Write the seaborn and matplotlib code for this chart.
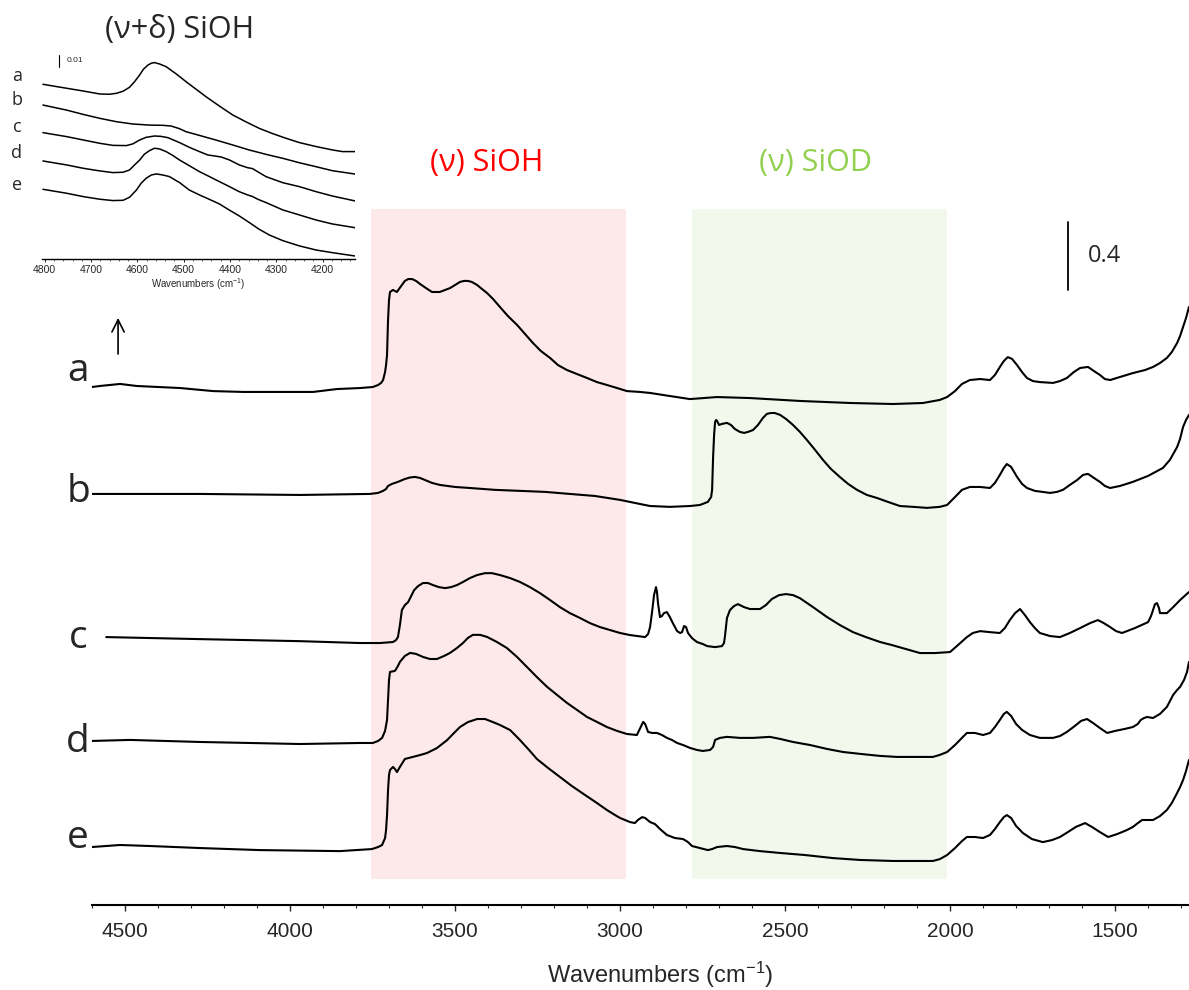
import numpy as np
import pandas as pd
import matplotlib
matplotlib.use("Agg")
import matplotlib.pyplot as plt
import seaborn as sns
from matplotlib.ticker import MultipleLocator, FixedLocator

# ---------------- main spectra: (wavenumber, absorbance relative to own baseline) ----------------
spec_a = [(4600, 0.0), (4576, 0.006), (4515, 0.018), (4464, 0.006), (4333, -0.006), (4233, -0.024),
          (4142, -0.029), (3930, -0.029), (3858, -0.012), (3788, -0.006), (3749, 0.0), (3733, 0.012),
          (3724, 0.024), (3718, 0.041), (3712, 0.088), (3709, 0.129), (3706, 0.188), (3703, 0.394),
          (3700, 0.512), (3697, 0.559), (3688, 0.571), (3682, 0.565), (3676, 0.559), (3670, 0.576),
          (3661, 0.6), (3652, 0.624), (3642, 0.635), (3630, 0.635), (3618, 0.624), (3606, 0.606),
          (3588, 0.582), (3570, 0.559), (3546, 0.559), (3530, 0.571), (3515, 0.582), (3500, 0.6),
          (3485, 0.618), (3473, 0.624), (3461, 0.624), (3449, 0.618), (3433, 0.6), (3418, 0.576),
          (3403, 0.553), (3385, 0.518), (3364, 0.471), (3340, 0.418), (3312, 0.365), (3288, 0.312),
          (3264, 0.259), (3240, 0.212), (3212, 0.171), (3188, 0.129), (3161, 0.1), (3130, 0.076),
          (3100, 0.053), (3070, 0.029), (3040, 0.012), (3009, -0.006), (2979, -0.024), (2940, -0.029),
          (2909, -0.035), (2849, -0.053), (2788, -0.071), (2706, -0.059), (2606, -0.065), (2455, -0.082),
          (2303, -0.094), (2173, -0.1), (2082, -0.094), (2031, -0.076), (2009, -0.059), (1985, -0.024),
          (1964, 0.018), (1940, 0.041), (1909, 0.047), (1879, 0.041), (1864, 0.071), (1849, 0.118),
          (1837, 0.153), (1825, 0.176), (1812, 0.165), (1797, 0.129), (1782, 0.088), (1767, 0.053),
          (1749, 0.035), (1728, 0.029), (1688, 0.024), (1667, 0.035), (1646, 0.053), (1625, 0.088),
          (1606, 0.112), (1582, 0.118), (1564, 0.094), (1546, 0.071), (1531, 0.047), (1515, 0.041),
          (1485, 0.059), (1446, 0.082), (1409, 0.1), (1385, 0.118), (1364, 0.141), (1343, 0.171),
          (1328, 0.206), (1312, 0.259), (1303, 0.3), (1294, 0.353), (1285, 0.406), (1276, 0.471)]

spec_b = [(4600, 0), (4273, 0), (3970, -0.006), (3758, 0), (3733, 0.006), (3718, 0.018), (3709, 0.029),
          (3703, 0.047), (3691, 0.059), (3673, 0.071), (3652, 0.088), (3636, 0.097), (3621, 0.1),
          (3606, 0.094), (3591, 0.082), (3570, 0.065), (3546, 0.053), (3500, 0.041), (3455, 0.035),
          (3379, 0.024), (3303, 0.018), (3227, 0.012), (3152, 0), (3076, -0.012), (3000, -0.035),
          (2955, -0.053), (2909, -0.071), (2849, -0.076), (2788, -0.071), (2758, -0.065), (2734, -0.047),
          (2724, -0.018), (2721, 0.024), (2718, 0.218), (2715, 0.347), (2712, 0.424), (2709, 0.435),
          (2706, 0.429), (2700, 0.406), (2691, 0.412), (2676, 0.418), (2664, 0.406), (2652, 0.382),
          (2637, 0.365), (2624, 0.359), (2612, 0.365), (2597, 0.376), (2582, 0.406), (2567, 0.447),
          (2555, 0.471), (2543, 0.476), (2531, 0.476), (2515, 0.465), (2497, 0.441), (2476, 0.406),
          (2455, 0.365), (2434, 0.318), (2409, 0.259), (2385, 0.2), (2361, 0.147), (2334, 0.1),
          (2309, 0.059), (2282, 0.024), (2252, -0.006), (2221, -0.024), (2188, -0.047), (2152, -0.071),
          (2112, -0.076), (2070, -0.082), (2031, -0.076), (2009, -0.065), (1985, -0.018), (1964, 0.024),
          (1940, 0.041), (1909, 0.041), (1879, 0.035), (1864, 0.065), (1849, 0.112), (1837, 0.153),
          (1828, 0.176), (1815, 0.159), (1797, 0.1), (1782, 0.059), (1767, 0.035), (1743, 0.018),
          (1697, 0.006), (1676, 0.012), (1658, 0.024), (1637, 0.053), (1615, 0.082), (1597, 0.112),
          (1582, 0.118), (1564, 0.094), (1546, 0.071), (1531, 0.047), (1515, 0.035), (1485, 0.047),
          (1446, 0.071), (1400, 0.106), (1355, 0.153), (1334, 0.2), (1312, 0.276), (1303, 0.324),
          (1294, 0.394), (1285, 0.435), (1276, 0.465)]

spec_c = [(4557, 0), (4273, -0.012), (3970, -0.024), (3788, -0.035), (3727, -0.035), (3688, -0.029),
          (3679, -0.018), (3673, 0), (3667, 0.071), (3661, 0.159), (3652, 0.188), (3642, 0.206),
          (3633, 0.241), (3624, 0.276), (3612, 0.3), (3597, 0.318), (3582, 0.318), (3567, 0.306),
          (3549, 0.294), (3530, 0.288), (3512, 0.294), (3494, 0.306), (3476, 0.324), (3455, 0.347),
          (3433, 0.365), (3409, 0.376), (3388, 0.376), (3364, 0.365), (3333, 0.347), (3303, 0.324),
          (3273, 0.294), (3243, 0.259), (3212, 0.218), (3182, 0.176), (3152, 0.141), (3121, 0.112),
          (3091, 0.082), (3061, 0.059), (3030, 0.041), (3000, 0.024), (2970, 0.012), (2924, 0),
          (2915, 0.018), (2909, 0.059), (2903, 0.147), (2897, 0.247), (2891, 0.294), (2888, 0.265),
          (2885, 0.2), (2879, 0.118), (2873, 0.124), (2867, 0.141), (2858, 0.147), (2849, 0.118),
          (2840, 0.082), (2827, 0.035), (2818, 0.024), (2812, 0.029), (2806, 0.065), (2800, 0.059),
          (2794, 0.024), (2782, -0.006), (2767, -0.029), (2749, -0.041), (2736, -0.053), (2712, -0.059),
          (2691, -0.053), (2685, -0.035), (2682, 0.006), (2676, 0.112), (2667, 0.159), (2655, 0.182),
          (2643, 0.194), (2624, 0.176), (2606, 0.165), (2576, 0.165), (2558, 0.188), (2540, 0.224),
          (2518, 0.247), (2497, 0.253), (2476, 0.247), (2455, 0.229), (2415, 0.176), (2373, 0.118),
          (2334, 0.071), (2294, 0.029), (2255, 0), (2212, -0.029), (2176, -0.047), (2143, -0.065),
          (2091, -0.094), (2046, -0.094), (2000, -0.088), (1976, -0.047), (1949, 0), (1931, 0.024),
          (1909, 0.035), (1879, 0.029), (1849, 0.024), (1834, 0.053), (1819, 0.1), (1803, 0.141),
          (1788, 0.165), (1773, 0.129), (1758, 0.088), (1743, 0.053), (1728, 0.024), (1697, 0.006),
          (1667, 0), (1637, 0.024), (1606, 0.053), (1576, 0.082), (1552, 0.1), (1534, 0.082),
          (1515, 0.059), (1497, 0.035), (1479, 0.024), (1440, 0.053), (1400, 0.088), (1391, 0.124),
          (1385, 0.159), (1379, 0.194), (1373, 0.2), (1367, 0.171), (1364, 0.141), (1343, 0.141),
          (1324, 0.176), (1303, 0.218), (1276, 0.265)]

spec_d = [(4600, 0), (4485, 0.006), (4273, -0.006), (3970, -0.018), (3788, -0.012), (3749, -0.012),
          (3733, 0), (3721, 0.018), (3712, 0.059), (3706, 0.124), (3703, 0.241), (3700, 0.359),
          (3697, 0.406), (3682, 0.412), (3673, 0.441), (3667, 0.465), (3652, 0.5), (3636, 0.518),
          (3618, 0.512), (3597, 0.494), (3576, 0.482), (3555, 0.482), (3533, 0.5), (3515, 0.518),
          (3494, 0.547), (3476, 0.576), (3461, 0.606), (3446, 0.624), (3424, 0.624), (3403, 0.612),
          (3373, 0.582), (3343, 0.547), (3312, 0.494), (3282, 0.435), (3252, 0.376), (3221, 0.318),
          (3191, 0.271), (3161, 0.224), (3130, 0.182), (3100, 0.141), (3070, 0.112), (3040, 0.082),
          (3009, 0.059), (2979, 0.041), (2949, 0.035), (2940, 0.071), (2930, 0.112), (2924, 0.1),
          (2915, 0.053), (2903, 0.047), (2888, 0.047), (2873, 0.035), (2858, 0.018), (2843, 0.006),
          (2827, -0.012), (2809, -0.024), (2788, -0.041), (2767, -0.053), (2749, -0.059), (2727, -0.053),
          (2718, -0.035), (2712, 0.006), (2697, 0.018), (2676, 0.024), (2637, 0.018), (2597, 0.018),
          (2546, 0.024), (2515, 0.012), (2476, -0.006), (2424, -0.024), (2373, -0.047), (2324, -0.065),
          (2273, -0.076), (2212, -0.088), (2161, -0.094), (2106, -0.094), (2052, -0.094), (2031, -0.082),
          (2009, -0.065), (1985, -0.024), (1964, 0.018), (1949, 0.047), (1925, 0.047), (1900, 0.035),
          (1879, 0.047), (1864, 0.082), (1849, 0.124), (1837, 0.159), (1828, 0.171), (1815, 0.147),
          (1800, 0.1), (1782, 0.065), (1758, 0.035), (1728, 0.018), (1688, 0.018), (1667, 0.029),
          (1646, 0.053), (1622, 0.088), (1603, 0.118), (1585, 0.129), (1567, 0.106), (1546, 0.076),
          (1524, 0.047), (1500, 0.059), (1470, 0.071), (1446, 0.082), (1431, 0.1), (1422, 0.124),
          (1412, 0.135), (1403, 0.141), (1385, 0.135), (1364, 0.159), (1343, 0.2), (1324, 0.271),
          (1312, 0.3), (1303, 0.318), (1291, 0.359), (1282, 0.406), (1276, 0.465)]

spec_e = [(4600, 0), (4515, 0.012), (4424, 0.006), (4273, -0.006), (4091, -0.018), (3849, -0.024),
          (3752, -0.012), (3733, 0), (3721, 0.012), (3712, 0.053), (3709, 0.1), (3706, 0.188),
          (3703, 0.335), (3700, 0.424), (3697, 0.453), (3688, 0.471), (3682, 0.459), (3676, 0.441),
          (3667, 0.471), (3652, 0.518), (3630, 0.529), (3606, 0.541), (3585, 0.553), (3555, 0.582),
          (3524, 0.629), (3506, 0.665), (3485, 0.706), (3461, 0.735), (3433, 0.753), (3409, 0.753),
          (3385, 0.735), (3364, 0.718), (3333, 0.688), (3303, 0.629), (3273, 0.565), (3252, 0.518),
          (3218, 0.465), (3182, 0.412), (3146, 0.359), (3106, 0.306), (3070, 0.259), (3040, 0.218),
          (3015, 0.188), (3000, 0.171), (2970, 0.147), (2955, 0.141), (2946, 0.159), (2933, 0.176),
          (2924, 0.171), (2909, 0.147), (2894, 0.135), (2879, 0.106), (2858, 0.071), (2834, 0.053),
          (2809, 0.047), (2794, 0.029), (2782, 0.006), (2758, -0.006), (2734, -0.018), (2721, -0.012),
          (2706, 0), (2676, 0.006), (2652, 0), (2627, -0.012), (2576, -0.024), (2515, -0.035),
          (2440, -0.047), (2355, -0.065), (2273, -0.076), (2173, -0.082), (2052, -0.082), (2031, -0.071),
          (2009, -0.047), (1985, -0.006), (1964, 0.035), (1949, 0.059), (1925, 0.059), (1900, 0.053),
          (1879, 0.071), (1864, 0.106), (1849, 0.147), (1837, 0.176), (1828, 0.188), (1815, 0.171),
          (1800, 0.124), (1779, 0.082), (1752, 0.047), (1719, 0.029), (1691, 0.041), (1667, 0.059),
          (1643, 0.088), (1619, 0.118), (1591, 0.141), (1570, 0.118), (1546, 0.088), (1521, 0.059),
          (1494, 0.076), (1464, 0.1), (1446, 0.118), (1431, 0.141), (1418, 0.159), (1385, 0.159),
          (1364, 0.182), (1343, 0.218), (1328, 0.259), (1312, 0.318), (1303, 0.353), (1294, 0.394),
          (1285, 0.447), (1276, 0.512)]

samples = ["a", "b", "c", "d", "e"]
offsets = [3.047, 2.418, 1.576, 0.965, 0.341]

# ---------------- inset: (nu+delta) SiOH combination band ----------------
ins_a = [(4804, 0), (4775, -0.0019), (4753, -0.0033), (4717, -0.0056), (4681, -0.0081), (4660, -0.0083),
         (4645, -0.0075), (4631, -0.0058), (4617, -0.0025), (4606, 0.0022), (4595, 0.0078), (4587, 0.0125),
         (4577, 0.0161), (4570, 0.0175), (4563, 0.0181), (4552, 0.0169), (4538, 0.0147), (4516, 0.0086),
         (4495, 0.0022), (4473, -0.0042), (4452, -0.0103), (4423, -0.0181), (4394, -0.0256), (4365, -0.0314),
         (4337, -0.0367), (4308, -0.0411), (4279, -0.045), (4250, -0.0486), (4214, -0.0519), (4179, -0.0547),
         (4157, -0.0561), (4130, -0.0561)]
ins_b = [(4804, 0), (4753, -0.0042), (4717, -0.0078), (4681, -0.0111), (4645, -0.0139), (4610, -0.0158),
         (4574, -0.0167), (4545, -0.0169), (4527, -0.0175), (4509, -0.0197), (4495, -0.0222), (4466, -0.0253),
         (4430, -0.0292), (4394, -0.0333), (4358, -0.0375), (4322, -0.0411), (4286, -0.0444), (4250, -0.0481),
         (4214, -0.0514), (4179, -0.0547), (4130, -0.0575)]
ins_c = [(4804, 0), (4753, -0.0033), (4717, -0.0061), (4681, -0.0089), (4653, -0.0106), (4624, -0.0108),
         (4610, -0.0094), (4595, -0.0061), (4581, -0.0039), (4563, -0.0028), (4549, -0.0031), (4534, -0.0042),
         (4509, -0.0083), (4488, -0.0122), (4466, -0.0158), (4448, -0.0186), (4434, -0.0194), (4419, -0.0203),
         (4401, -0.0228), (4380, -0.0269), (4362, -0.0292), (4351, -0.03), (4344, -0.0317), (4322, -0.0367),
         (4286, -0.0417), (4250, -0.045), (4214, -0.0492), (4179, -0.0528), (4130, -0.0569)]
ins_d = [(4804, 0), (4753, -0.0033), (4717, -0.0061), (4681, -0.0083), (4653, -0.0097), (4631, -0.0094),
         (4617, -0.0075), (4606, -0.0033), (4595, 0.0008), (4585, 0.0056), (4574, 0.0086), (4563, 0.0106),
         (4552, 0.01), (4538, 0.0078), (4524, 0.0047), (4509, 0.0008), (4488, -0.0039), (4466, -0.0089),
         (4444, -0.0131), (4423, -0.0172), (4401, -0.0214), (4380, -0.0256), (4362, -0.0283), (4351, -0.0297),
         (4340, -0.0319), (4322, -0.0347), (4286, -0.0408), (4250, -0.045), (4214, -0.0492), (4179, -0.0525),
         (4130, -0.0556)]
ins_e = [(4804, 0), (4753, -0.0033), (4717, -0.0061), (4681, -0.0083), (4653, -0.0094), (4631, -0.0092),
         (4617, -0.0067), (4602, -0.0006), (4592, 0.005), (4581, 0.0092), (4570, 0.0119), (4559, 0.0128),
         (4545, 0.0119), (4531, 0.0106), (4509, 0.0056), (4488, -0.0006), (4466, -0.0047), (4445, -0.0083),
         (4423, -0.0122), (4402, -0.0172), (4380, -0.0222), (4358, -0.0278), (4337, -0.0333), (4315, -0.0381),
         (4286, -0.0428), (4250, -0.0472), (4214, -0.0506), (4179, -0.0528), (4130, -0.0556)]
inset_offsets = [0.1456, 0.1283, 0.1053, 0.0817, 0.0581]

main_ticks = [4500, 4000, 3500, 3000, 2500, 2000, 1500]
inset_ticks = [4800, 4700, 4600, 4500, 4400, 4300, 4200]


def stack(specs, offs):
    frames = []
    for name, spec, off in zip(samples, specs, offs):
        w, a = zip(*spec)
        frames.append(pd.DataFrame({"sample": name, "wavenumber": w,
                                    "signal": np.asarray(a) + off}))
    return pd.concat(frames, ignore_index=True)


main_df = stack([spec_a, spec_b, spec_c, spec_d, spec_e], offsets)
inset_df = stack([ins_a, ins_b, ins_c, ins_d, ins_e], inset_offsets)

sns.set_style("white")
plt.rcParams["font.family"] = ["Open Sans", "DejaVu Sans"]
plt.rcParams["mathtext.default"] = "regular"
tick_font = ["Liberation Sans Narrow", "Liberation Sans", "DejaVu Sans"]

W, H = 1189, 990
fig = plt.figure(figsize=(W / 100, H / 100), dpi=100)


def px(x, y):
    return x / W, 1 - y / H


# ---------------- main panel ----------------
ax = fig.add_axes([92 / W, (H - 905) / H, 1097 / W, 805 / H])
ax.set_xlim(4600, 1276)
ax.set_ylim(0, 805 / 170)

ax.fill_between([3755, 2982], 0.153, 4.094, color="#FDE9E9", lw=0, zorder=0)
ax.fill_between([2782, 2009], 0.153, 4.094, color="#F2F8EC", lw=0, zorder=0)

sns.lineplot(data=main_df, x="wavenumber", y="signal", units="sample", estimator=None,
             sort=False, color="black", lw=1.5, ax=ax, legend=False)

for s in ["top", "left", "right"]:
    ax.spines[s].set_visible(False)
ax.spines["bottom"].set_linewidth(1.5)
ax.spines["bottom"].set_color("black")
ax.set_yticks([])
ax.set_ylabel("")
ax.set_xlabel("")
ax.xaxis.set_major_locator(FixedLocator(main_ticks))
ax.xaxis.set_minor_locator(MultipleLocator(100))
ax.tick_params(axis="x", which="major", direction="out", length=4, width=1, pad=8, bottom=True)
ax.tick_params(axis="x", which="minor", direction="out", length=2, width=0.8, bottom=True)
ax.set_xticklabels([str(t) for t in main_ticks], fontfamily=tick_font, fontsize=15)

fig.text(*px(660, 975), "Wavenumbers (cm$^{-1}$)", ha="center", va="center",
         fontsize=17, fontfamily=tick_font)

ax.text(3403, 4.365, "(ν) SiOH", color="#FF0000", fontsize=22, ha="center", va="center")
ax.text(2409, 4.365, "(ν) SiOD", color="#92D050", fontsize=22, ha="center", va="center")

# 0.4 absorbance scale bar
ax.plot([1643, 1643], [3.618, 4.018], color="black", lw=1.3)
ax.text(1582, 3.818, "0.4", fontsize=17, ha="left", va="center")

# arrow pointing up to the inset region
ax.annotate("", xy=(4521, 3.47), xytext=(4521, 3.225),
            arrowprops=dict(arrowstyle="->", lw=1.2, mutation_scale=22, color="black"))

for name, yb in zip(samples, [381, 502, 648, 752, 848]):
    fig.text(*px(78, yb), name, fontsize=28, ha="center", va="baseline")

# ---------------- inset ----------------
ax2 = fig.add_axes([42 / W, 1 - 259 / H, 313 / W, 209 / H])
ax2.set_xlim(4806, 4130)
ax2.set_ylim(0, 209 / 1200)
ax2.patch.set_alpha(0)
sns.lineplot(data=inset_df, x="wavenumber", y="signal", units="sample", estimator=None,
             sort=False, color="black", lw=1.1, ax=ax2, legend=False)
for s in ["top", "left", "right"]:
    ax2.spines[s].set_visible(False)
ax2.spines["bottom"].set_linewidth(1.0)
ax2.spines["bottom"].set_color("black")
ax2.set_yticks([])
ax2.set_ylabel("")
ax2.xaxis.set_major_locator(FixedLocator(inset_ticks))
ax2.xaxis.set_minor_locator(MultipleLocator(20))
ax2.tick_params(axis="x", which="major", direction="out", length=2.5, width=0.7, pad=2, bottom=True)
ax2.tick_params(axis="x", which="minor", direction="out", length=1.5, width=0.5, bottom=True)
ax2.set_xticklabels([str(t) for t in inset_ticks], fontfamily=tick_font, fontsize=7.5)
ax2.set_xlabel("Wavenumbers (cm$^{-1}$)", fontsize=7, fontfamily=tick_font, labelpad=1)

ax2.plot([4770, 4770], [0.16, 0.17], color="black", lw=0.8)
ax2.text(4753, 0.165, "0.01", fontsize=6, ha="left", va="center", fontfamily=tick_font)

for name, yc in zip(samples, [76, 100, 127, 153, 185]):
    fig.text(*px(17, yc), name, fontsize=13, ha="center", va="center")

fig.text(*px(180, 30), "(ν+δ) SiOH", fontsize=22, ha="center", va="center")

fig.savefig("out.png", dpi=100)
